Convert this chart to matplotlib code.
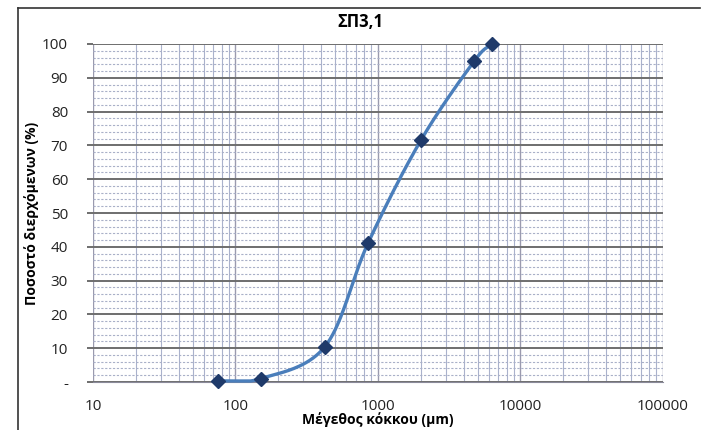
import matplotlib
matplotlib.use("Agg")
import matplotlib.pyplot as plt
import numpy as np
from matplotlib.ticker import FixedLocator, LogLocator, NullFormatter

plt.rcParams['font.family'] = ['Open Sans', 'DejaVu Sans']

# sieve sizes (um) and percent passing
grain_size = [75, 150, 425, 850, 2000, 4750, 6300]
passing = [0.3, 1.0, 10.5, 41.0, 71.5, 95.0, 100.0]

y_ticks = [0, 10, 20, 30, 40, 50, 60, 70, 80, 90, 100]
y_labels = ["-"] + [str(t) for t in y_ticks[1:]]
x_ticks = [10, 100, 1000, 10000, 100000]
x_labels = ["10", "100", "1000", "10000", "100000"]

title = "ΣΠ3,1"
x_title = "Μέγεθος κόκκου (μm)"
y_title = "Ποσοστό διερχόμενων (%)"


def smooth_curve(xs, ys, n=40):
    # Catmull-Rom through the points, in log-x space
    px = np.log10(np.asarray(xs, float))
    py = np.asarray(ys, float)
    px = np.concatenate([[2 * px[0] - px[1]], px, [2 * px[-1] - px[-2]]])
    py = np.concatenate([[2 * py[0] - py[1]], py, [2 * py[-1] - py[-2]]])
    out_x, out_y = [], []
    t = np.linspace(0, 1, n)
    for i in range(1, len(px) - 2):
        for p, out in ((px, out_x), (py, out_y)):
            p0, p1, p2, p3 = p[i - 1], p[i], p[i + 1], p[i + 2]
            seg = 0.5 * ((2 * p1) + (-p0 + p2) * t
                         + (2 * p0 - 5 * p1 + 4 * p2 - p3) * t ** 2
                         + (-p0 + 3 * p1 - 3 * p2 + p3) * t ** 3)
            out.extend(seg)
    # keep the spline from dipping outside the data range
    out_y = np.clip(out_y, min(ys), max(ys))
    return 10 ** np.array(out_x), out_y


fig = plt.figure(figsize=(7.09, 4.30), dpi=100)
ax = fig.add_axes([0.1312, 0.1116, 0.8038, 0.7861])

# outer chart frame
fig.add_artist(plt.Line2D([0.025, 0.025], [0.0, 0.981], color="#333333", lw=1.2))
fig.add_artist(plt.Line2D([0.025, 0.988], [0.981, 0.981], color="#333333", lw=1.2))

ax.set_xscale("log")
ax.set_xlim(10, 100000)
ax.set_ylim(0, 100)

ax.xaxis.set_major_locator(FixedLocator(x_ticks))
ax.set_xticks(x_ticks, labels=x_labels)
ax.xaxis.set_minor_locator(LogLocator(base=10, subs=np.arange(2, 10)))
ax.xaxis.set_minor_formatter(NullFormatter())
ax.set_yticks(y_ticks, labels=y_labels)
ax.yaxis.set_minor_locator(FixedLocator(np.arange(0, 101, 2)))

ax.grid(which="major", axis="y", color="#6e6e6e", lw=1.4)
ax.grid(which="minor", axis="y", color="#a9b0c8", lw=0.8, ls=(0, (2, 1.5)))
ax.grid(which="major", axis="x", color="#9a9aae", lw=1.0)
ax.grid(which="minor", axis="x", color="#aab2cc", lw=0.8)
ax.set_axisbelow(True)

for side in ["top", "right", "left"]:
    ax.spines[side].set_visible(False)
ax.spines["bottom"].set_color("#8a8a9a")
ax.tick_params(axis="both", which="both", length=0, labelsize=11,
               labelcolor="#222222")
ax.tick_params(axis="y", which="major", length=4, width=1.4, color="#6e6e6e",
               pad=14)
ax.tick_params(axis="x", pad=12)

sx, sy = smooth_curve(grain_size, passing)
ax.plot(sx, sy, color="#4a7ebb", lw=2.4, zorder=3, clip_on=False)
ax.plot(grain_size, passing, ls="none", marker="D", ms=7.5, color="#1f3a6a",
        zorder=4, clip_on=False)

ax.set_title(title, fontsize=12, fontweight="bold", pad=12, x=0.47)
ax.set_xlabel(x_title, fontsize=10, fontweight="bold", labelpad=-1)
ax.set_ylabel(y_title, fontsize=10, fontweight="bold")
ax.yaxis.set_label_coords(-0.094, 0.5)

fig.savefig("out.png", dpi=100)
